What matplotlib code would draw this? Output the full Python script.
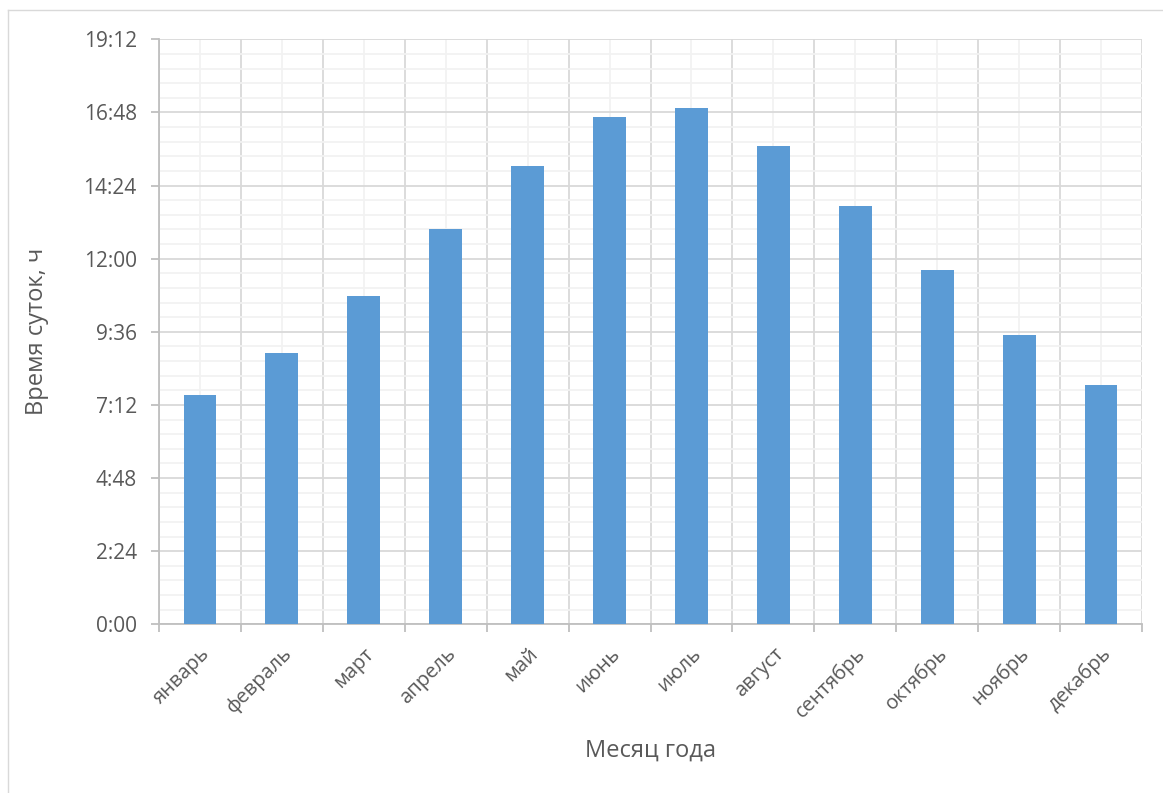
import matplotlib.pyplot as plt
import matplotlib.ticker as mticker
from matplotlib.lines import Line2D
import numpy as np

plt.rcParams['font.family'] = ['Open Sans', 'DejaVu Sans']

# Продолжительность светового дня по месяцам (ч:мин)
months = ['январь', 'февраль', 'март', 'апрель', 'май', 'июнь',
          'июль', 'август', 'сентябрь', 'октябрь', 'ноябрь', 'декабрь']
day_length = ['7:31', '8:54', '10:46', '12:58', '15:02', '16:40',
              '16:57', '15:42', '13:43', '11:37', '9:29', '7:51']

def to_hours(s):
  h, m = s.split(':')
  return int(h) + int(m) / 60

def fmt_time(v, pos=None):
  total = int(round(v * 60))
  return f"{total // 60}:{total % 60:02d}"

hours = [to_hours(s) for s in day_length]
x = np.arange(len(months))

text_col = '#595959'
fig = plt.figure(figsize=(11.63, 7.93), dpi=100)
ax = fig.add_axes([0.1367, 0.2127, 0.9820 - 0.1367, 0.9504 - 0.2127])

ax.bar(x, hours, width=0.4, color='#5b9bd5', zorder=3)

# Ось Y: от 0:00 до 19:12, шаг 2:24
ax.set_ylim(0, 19.2)
ax.yaxis.set_major_locator(mticker.MultipleLocator(2.4))
ax.yaxis.set_minor_locator(mticker.MultipleLocator(0.48))
ax.yaxis.set_major_formatter(mticker.FuncFormatter(fmt_time))

# Ось X: сетка по границам категорий, подписи по центрам
ax.set_xlim(-0.5, len(months) - 0.5)
ax.set_xticks(np.arange(-0.5, len(months), 1.0))
ax.set_xticks(x, minor=True)
ax.set_xticklabels([])
ax.set_xticklabels(months, minor=True)

ax.grid(which='major', color='#d9d9d9', linewidth=1.3, zorder=0)
ax.grid(which='minor', color='#f2f2f2', linewidth=1.3, zorder=0)

ax.tick_params(axis='y', which='major', length=6, width=1.3, color='#bfbfbf',
               labelsize=15, labelcolor=text_col, pad=10)
ax.tick_params(axis='y', which='minor', length=0)
ax.tick_params(axis='x', which='major', length=6, width=1.3, color='#bfbfbf')
ax.tick_params(axis='x', which='minor', length=0, labelsize=14.5,
               labelcolor=text_col, pad=14)
for lbl in ax.get_xticklabels(minor=True):
  lbl.set_rotation(45)
  lbl.set_ha('right')
  lbl.set_va('top')
  lbl.set_rotation_mode('anchor')

for side in ['top', 'right']:
  ax.spines[side].set_visible(False)
for side in ['left', 'bottom']:
  ax.spines[side].set_color('#bfbfbf')
  ax.spines[side].set_linewidth(1.3)

ax.set_ylabel('Время суток, ч', fontsize=17, color=text_col, labelpad=25)
ax.set_xlabel('Месяц года', fontsize=17, color=text_col, labelpad=12)

# Рамка области диаграммы
fig.add_artist(Line2D([7.5 / 1163, 7.5 / 1163], [0, 1 - 10 / 793],
                      color='#d9d9d9', linewidth=1))
fig.add_artist(Line2D([7.5 / 1163, 1], [1 - 10 / 793, 1 - 10 / 793],
                      color='#d9d9d9', linewidth=1))

fig.savefig('out.png', dpi=100, facecolor='white')
